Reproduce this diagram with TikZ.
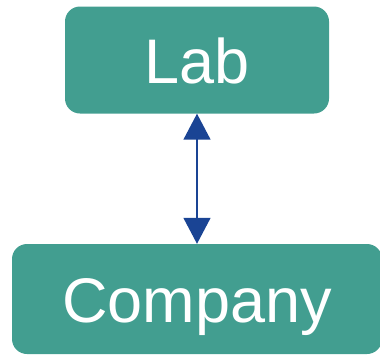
\documentclass[tikz,border=0pt]{standalone}
\usepackage{fontspec}
\setmainfont{Liberation Sans}
\usetikzlibrary{arrows.meta}
\definecolor{boxteal}{HTML}{429E90}
\definecolor{linkblue}{HTML}{1A4494}

\begin{document}
\begin{tikzpicture}[x=1pt, y=-1pt,
		box/.style = {fill = boxteal, text = white, rounded corners = 15pt, inner sep = 0pt,
			text height = 46pt, text depth = 0pt, font = \fontsize{63}{70}\selectfont},
		link/.style = {linkblue, line width = 1.5pt, {Triangle[width=27pt,length=26pt]}-{Triangle[width=27pt,length=26pt]}}]
				\useasboundingbox (0,0) rectangle (380,354);
				\node[box, minimum width = 264pt, minimum height = 107pt] (lab) at (197,60) {Lab};
				\node[box, minimum width = 370pt, minimum height = 110pt] (company) at (197,299) {Company};
				\draw[link] (lab) -- (company);
			\end{tikzpicture}
\end{document}
